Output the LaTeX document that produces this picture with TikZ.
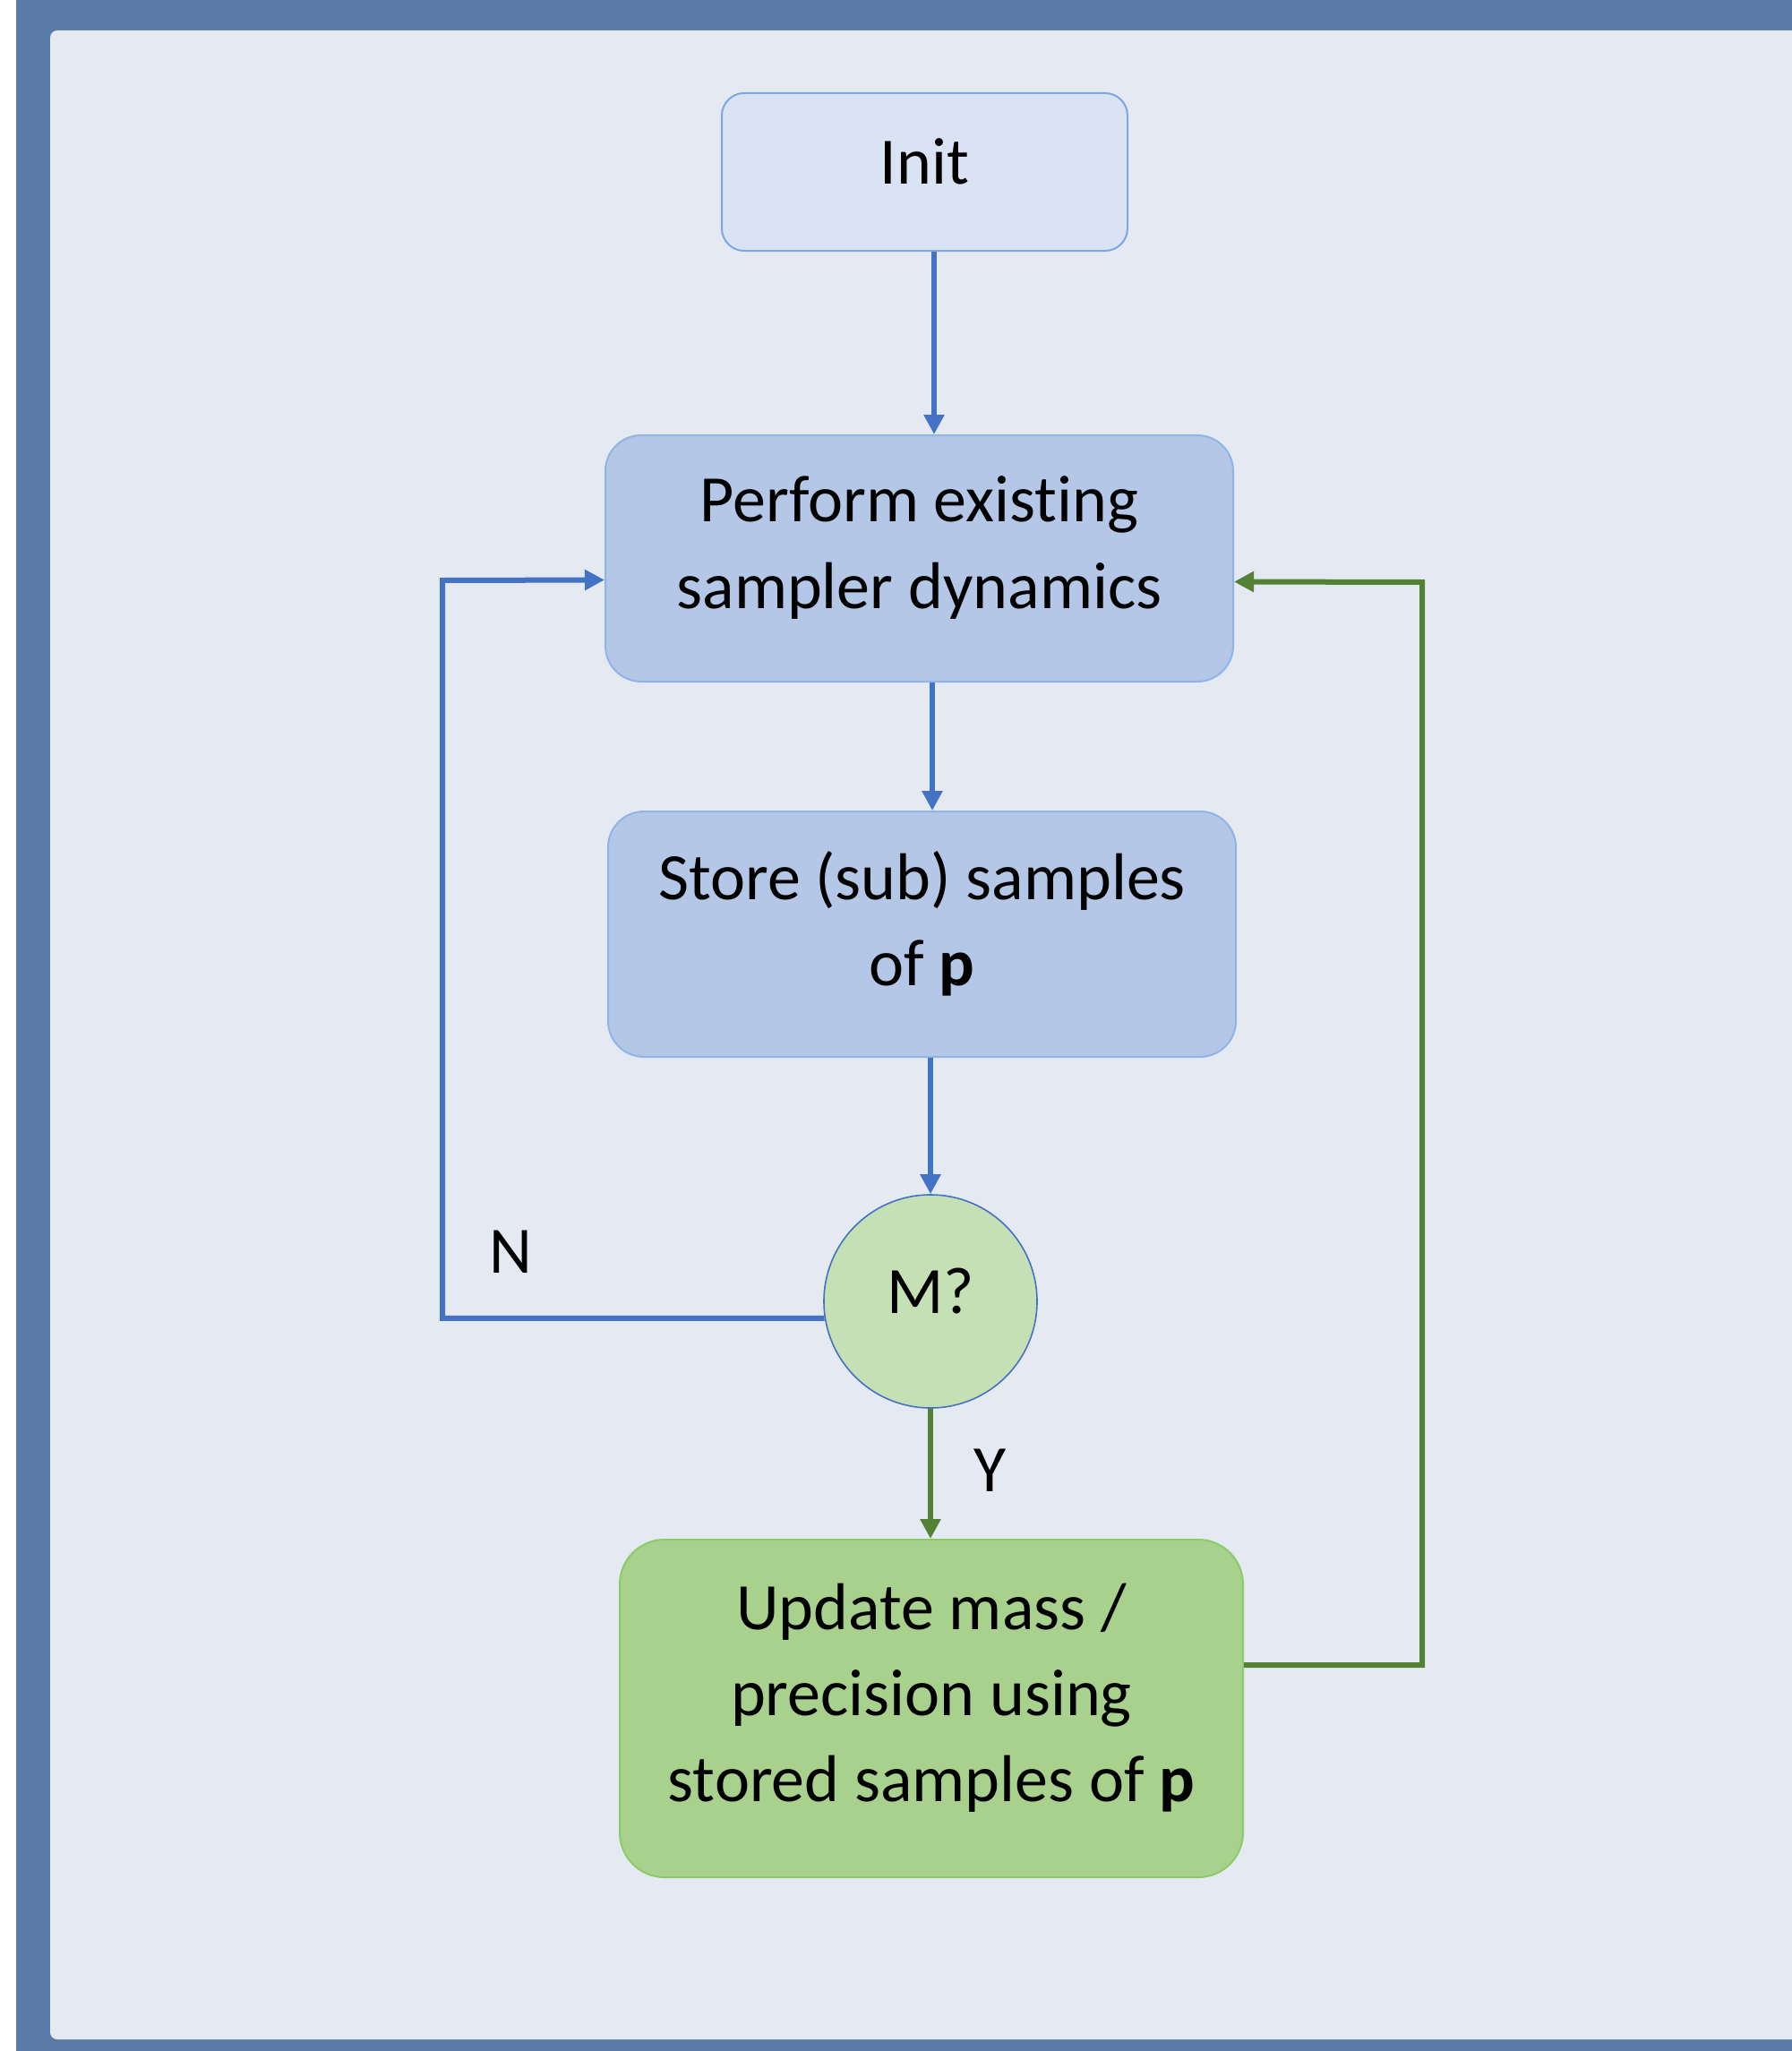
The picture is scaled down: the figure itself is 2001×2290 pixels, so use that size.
\documentclass[tikz,border=0pt]{standalone}
\usepackage{fontspec}
\setmainfont{Carlito}[Ligatures=NoCommon]
\usetikzlibrary{arrows.meta}
\definecolor{frameblue}{HTML}{5A7BA8}
\definecolor{panel}{HTML}{E5E9F2}
\definecolor{initfill}{HTML}{DAE3F3}
\definecolor{initdraw}{HTML}{7EA6E0}
\definecolor{boxfill}{HTML}{B4C7E7}
\definecolor{boxdraw}{HTML}{8FB4E8}
\definecolor{circfill}{HTML}{C5E0B4}
\definecolor{updfill}{HTML}{A9D18E}
\definecolor{upddraw}{HTML}{8CCB6A}
\definecolor{lineblue}{HTML}{4472C4}
\definecolor{linegreen}{HTML}{548235}
\tikzset{
  x=0.5pt, y=-0.5pt,
  txt/.style={font=\fontsize{37}{48}\selectfont, align=center, inner sep=0pt, text=black},
  intext/.style={txt, yshift=6pt},
  procbox/.style={rectangle, draw=boxdraw, line width=1pt, fill=boxfill},
  barrow/.style={draw=lineblue, line width=3pt, -{Triangle[length=11pt,width=11pt]}},
  garrow/.style={draw=linegreen, line width=3pt, -{Triangle[length=11pt,width=11pt]}},
}
\begin{document}
\begin{tikzpicture}
\useasboundingbox (0,0) rectangle (2001,2290);
\clip (0,0) rectangle (2001,2290);
\fill[white] (0,0) rectangle (2001,2290);
\fill[frameblue] (18,0) rectangle (2001,2290);
\fill[panel, rounded corners=4pt] (56,34) rectangle (2040,2277);

\node[rectangle, rounded corners=12.5pt, draw=initdraw, line width=1pt, fill=initfill,
      minimum width=226.5pt, minimum height=88pt,
      label={[intext]center:Init}] (init) at (1032.5,192) {};
\node[procbox, rounded corners=20pt, minimum width=350.5pt, minimum height=137.5pt,
      label={[intext]center:{Perform existing\\sampler dynamics}}]
      (perform) at (1026.5,623.5) {};
\node[procbox, rounded corners=20pt, minimum width=350.5pt, minimum height=137pt,
      label={[intext]center:{Store (sub) samples\\of \textbf{p}}}]
      (store) at (1029.5,1043) {};
\node[circle, draw=lineblue, line width=0.8pt, fill=circfill, minimum size=119pt,
      label={[intext]center:M?}]
      (m) at (1039,1453) {};
\node[rectangle, rounded corners=25pt, draw=upddraw, line width=1pt, fill=updfill,
      minimum width=348pt, minimum height=188.5pt,
      label={[intext]center:{Update mass /\\precision using\\stored samples of \textbf{p}}}]
      (update) at (1040,1907.5) {};

\node[txt] (nlab) at (570,1398) {N};
\node[txt] (ylab) at (1106,1642) {Y};

\coordinate (ncorner) at (494,648);
\coordinate (gcorner) at (1588,650);

\draw[barrow] ([xshift=2pt]init.south -| m.north) -- ([xshift=2pt]perform.north -| m.north);
\draw[barrow] ([xshift=1pt]perform.south -| m.north) -- ([xshift=1pt]store.north -| m.north);
\draw[barrow] (store.south -| m.north) -- (m.north);
\draw[garrow] (m.south) -- (update.north -| m.south);
\draw[barrow] (m.189) -| (ncorner) -- ([yshift=-12pt]perform.west);
\draw[garrow] ([yshift=24.25pt]update.east) -| (gcorner) -- ([yshift=-13pt]perform.east);
\end{tikzpicture}
\end{document}
